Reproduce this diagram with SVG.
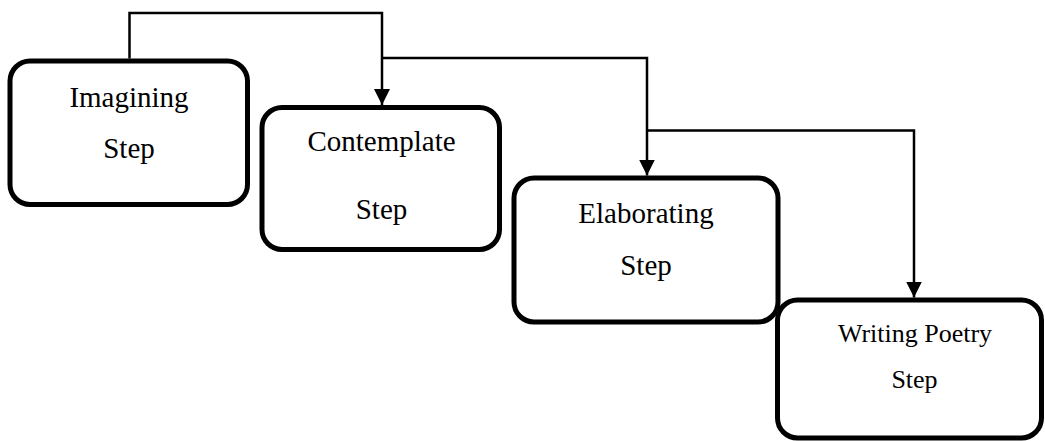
<svg xmlns="http://www.w3.org/2000/svg" width="1045" height="441" viewBox="0 0 1045 441">
  <style>
    .box { fill: #ffffff; stroke: #000000; stroke-width: 5; }
    .link { fill: none; stroke: #000000; stroke-width: 2.5; }
    .label { font-family: "Liberation Serif", "Times New Roman", serif; font-size: 29px; fill: #000000; text-anchor: middle; }
    .small { font-size: 26px; }
  </style>
  <defs>
    <marker id="arrow" viewBox="0 0 16 16" refX="16" refY="8" markerWidth="16" markerHeight="16" markerUnits="userSpaceOnUse" orient="auto">
      <path d="M0,0 L16,8 L0,16 Z" fill="#000000"/>
    </marker>
  </defs>

  <!-- connectors -->
  <g id="connectors">
    <path class="link" d="M129.5,58.5 V13 H382 V105" marker-end="url(#arrow)"/>
    <path class="link" d="M382,58 H647 V175.5" marker-end="url(#arrow)"/>
    <path class="link" d="M647,130.5 H914 V297.5" marker-end="url(#arrow)"/>
  </g>

  <!-- steps -->
  <g id="imagining">
    <rect class="box" x="10" y="61" width="237.5" height="143.5" rx="20"/>
    <text class="label" x="129" y="107">Imagining</text>
    <text class="label" x="129" y="158">Step</text>
  </g>
  <g id="contemplate">
    <rect class="box" x="262" y="107.5" width="237.5" height="142" rx="20"/>
    <text class="label" x="381.5" y="151">Contemplate</text>
    <text class="label" x="381.5" y="219">Step</text>
  </g>
  <g id="elaborating">
    <rect class="box" x="514" y="178" width="264" height="144" rx="20"/>
    <text class="label" x="646" y="223">Elaborating</text>
    <text class="label" x="646" y="275">Step</text>
  </g>
  <g id="writing-poetry">
    <rect class="box" x="777.5" y="300" width="264" height="138" rx="20"/>
    <text class="label small" x="915" y="342">Writing Poetry</text>
    <text class="label small" x="914.5" y="388">Step</text>
  </g>
</svg>
